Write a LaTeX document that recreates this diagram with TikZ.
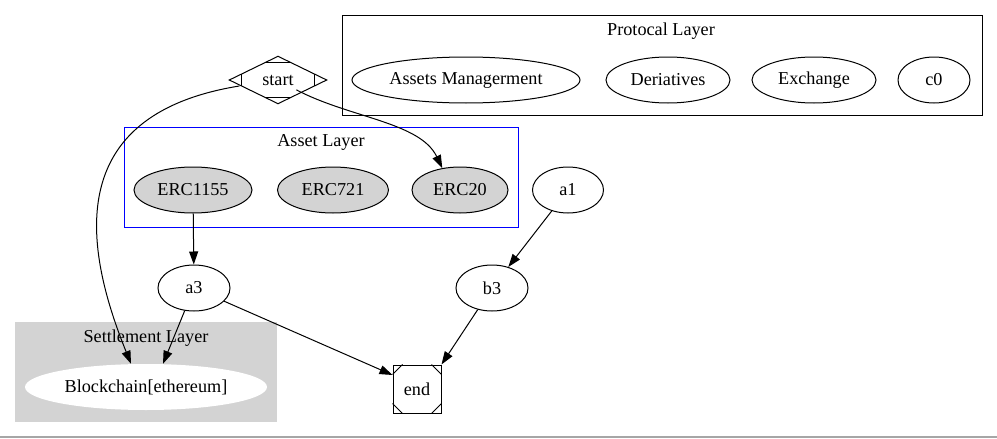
\documentclass[tikz,border=0pt]{standalone}
\usepackage{fontspec}
\setmainfont{Liberation Serif}
\usetikzlibrary{shapes.geometric,arrows.meta,calc}
\begin{document}
\begin{tikzpicture}[x=1pt,y=-1pt,
  every node/.style={font=\fontsize{18.2}{20}\selectfont},
  ell/.style={ellipse,draw=black,line width=1pt,inner sep=0pt,minimum height=46pt},
  grayell/.style={ell,fill=lightgray},
  edge/.style={line width=1pt,-{Triangle[length=13pt,width=9pt]}},
  cl/.style={line width=0.9pt}]
\definecolor{lightgray}{HTML}{D3D3D3}
\useasboundingbox (0,0) rectangle (997,439);
% bottom rule
\draw[gray!70,line width=1.2pt] (0,437) -- (997,437);
% Protocal Layer
\draw[cl] (342,15) rectangle (982,115);
\node (pl) at (661,31) {Protocal Layer};
\node[ell,minimum width=228pt] (am) at (466,80) {Assets Managerment};
\node[ell,minimum width=124pt] (de) at (668,80) {Deriatives};
\node[ell,minimum width=124pt] (ex) at (814,80) {Exchange};
\node[ell,minimum width=72pt] (c0) at (934,80) {c0};
% start Mdiamond
\node[diamond,aspect=2.06,minimum width=97pt,minimum height=47pt,inner sep=0pt,draw=none] (start) at (278,80) {start};
\draw[line width=1pt] (start.north) -- (start.east) -- (start.south) -- (start.west) -- cycle;
\draw[line width=1pt] ($(start.north)!0.25!(start.west)$) -- ($(start.north)!0.25!(start.east)$);
\draw[line width=1pt] ($(start.south)!0.25!(start.west)$) -- ($(start.south)!0.25!(start.east)$);
\draw[line width=1pt] ($(start.west)!0.25!(start.north)$) -- ($(start.west)!0.25!(start.south)$);
\draw[line width=1pt] ($(start.east)!0.25!(start.north)$) -- ($(start.east)!0.25!(start.south)$);
% Asset Layer
\draw[cl,draw=blue] (124,127) rectangle (518,227);
\node (al) at (321,142) {Asset Layer};
\node[grayell,minimum width=118pt] (e1155) at (193,190) {ERC1155};
\node[grayell,minimum width=111pt] (e721) at (333,190) {ERC721};
\node[grayell,minimum width=96pt] (e20) at (460,190) {ERC20};
\node[ell,minimum width=71pt] (a1) at (568,190) {a1};
\node[ell,minimum width=72pt] (a3) at (194,288) {a3};
\node[ell,minimum width=72pt] (b3) at (492,288) {b3};
% Settlement Layer
\fill[lightgray] (15,322) rectangle (277,422);
\node (sl) at (146,338) {Settlement Layer};
\node[ellipse,fill=white,inner sep=0pt,minimum width=242pt,minimum height=46pt] (bc) at (146,387) {Blockchain[ethereum]};
% end Msquare
\node[rectangle,draw,line width=1pt,minimum width=48pt,minimum height=48pt,inner sep=0pt] (end) at (417,389) {end};
\draw[line width=1pt] ($(end.north west)+(0,10)$) -- ($(end.north west)+(10,0)$);
\draw[line width=1pt] ($(end.north east)+(0,10)$) -- ($(end.north east)+(-10,0)$);
\draw[line width=1pt] ($(end.south west)+(0,-10)$) -- ($(end.south west)+(10,0)$);
\draw[line width=1pt] ($(end.south east)+(0,-10)$) -- ($(end.south east)+(-10,0)$);
% edges
\draw[edge] (start.west) ++(10,6) .. controls (60,115) and (85,250) .. (bc.north -| 131,0);
\draw[edge] (start.south east) ++(-6,-2) .. controls (350,118) and (420,122) .. (e20.129);
\draw[edge] (e1155) -- (a3);
\draw[edge] (a3) -- (bc.north -| 163,0);
\draw[edge] (a3) -- (end.west |- 0,375);
\draw[edge] (a1) -- (b3);
\draw[edge] (b3) -- (end.north east);
\end{tikzpicture}
\end{document}
